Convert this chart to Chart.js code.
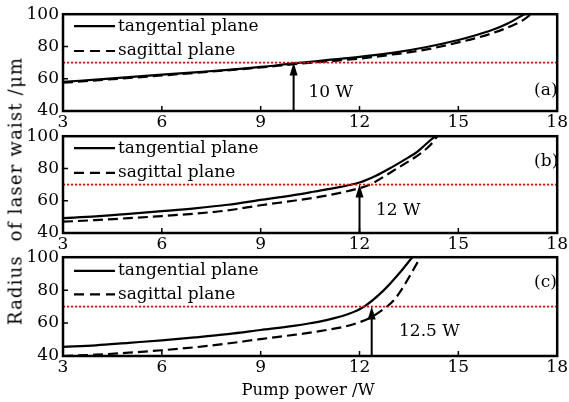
<!DOCTYPE html>
<html>
<head>
<meta charset="utf-8">
<script src="https://cdn.jsdelivr.net/npm/chart.js@4.4.1/dist/chart.umd.min.js"></script>
<style>
  body { margin: 0; background: #fff; }
  #wrap { position: relative; width: 569px; height: 402px; font-family: 'DejaVu Serif', serif; }
  canvas { position: absolute; left: 0; }
  .title { position: absolute; color: #000; white-space: pre; }
  #ytitle { left: 15px; top: 191px; font-size: 18px; letter-spacing: 1.2px; transform: translate(-50%, -50%) rotate(-90deg); }
  #xtitle { left: 308px; top: 389px; font-size: 16.5px; transform: translate(-50%, -50%); }
</style>
</head>
<body>
<div id="wrap">
  <canvas id="chartA" width="569" height="132" style="top:0px"></canvas>
  <canvas id="chartB" width="569" height="132" style="top:122px"></canvas>
  <canvas id="chartC" width="569" height="134" style="top:243px"></canvas>
  <div class="title" id="ytitle">Radius  of laser waist /μm</div>
  <div class="title" id="xtitle">Pump power /W</div>
</div>
<script>
const xTicks = [3, 6, 9, 12, 15, 18]
const yTicks = [40, 60, 80, 100]
const thresholdY = 70
const seriesNames = ['tangential plane', 'sagittal plane']

// panel (a)
const tanA_x = [3, 4, 5, 6, 7, 8, 9, 10, 11, 12, 13, 14, 15, 15.5, 16, 16.5, 17]
const tanA_y = [58, 59.5, 61, 62.5, 64, 65.5, 67.3, 69.5, 71.5, 73.5, 76, 79.5, 84, 86.8, 90, 94.2, 100]
const sagA_x = [3, 6, 9, 10, 12, 13, 14, 15, 15.5, 16, 16.5, 17, 17.2]
const sagA_y = [57.5, 62, 67, 69, 72.5, 75, 78, 82.5, 85, 88, 91.8, 96.8, 100]

// panel (b)
const tanB_x = [3, 4, 5, 6, 7, 8, 9, 10, 10.5, 11, 12, 12.5, 13, 13.5, 13.75, 14.15, 14.3]
const tanB_y = [49.2, 50.3, 51.8, 53.5, 55.3, 57.5, 60.5, 63.5, 65.2, 67, 71.3, 75.5, 81, 87, 90.3, 97.5, 100]
const sagB_x = [3, 4, 5, 6, 7, 8, 9, 10, 11, 12, 12.25, 12.5, 13, 13.5, 13.75, 14.15, 14.36]
const sagB_y = [47, 48, 49.2, 50.5, 52, 54, 57.2, 60, 63.2, 67.8, 69.5, 72, 78.3, 84.5, 87.8, 94.5, 100]

// panel (c)
const tanC_x = [3, 4, 5, 6, 7, 8, 9, 10, 10.5, 11, 11.64, 12.14, 12.74, 13.24, 13.6]
const tanC_y = [45.5, 46.5, 48, 49.5, 51.3, 53.3, 55.8, 58.3, 59.9, 61.8, 65.3, 70, 80, 91, 100]
const sagC_x = [3, 4, 5, 6, 7, 8, 9, 10, 10.5, 11, 11.5, 12, 12.35, 12.7, 13.05, 13.25, 13.45, 13.65, 13.85]
const sagC_y = [40, 40.8, 42, 43.5, 45.3, 47.6, 50.3, 52.8, 54.2, 55.8, 57.6, 60.5, 63.5, 68, 74, 79.5, 86, 93, 100]

// arrows and notes
const arrowX = [10, 12, 12.37]
const arrowText = ['10 W', '12 W', '12.5 W']
const panelTags = ['(a)', '(b)', '(c)']

const FAMILY = "'DejaVu Serif', serif"
const FONT = '17px ' + FAMILY

function pts(xs, ys) {
  return xs.map((x, i) => ({ x: x, y: ys[i] }))
}

const decor = {
  id: 'decor',
  afterDraw(chart, args, o) {
    const ctx = chart.ctx
    const a = chart.chartArea
    const x = chart.scales.x
    const y = chart.scales.y
    ctx.save()
    ctx.strokeStyle = '#000'
    ctx.fillStyle = '#000'

    // inward ticks
    ctx.lineWidth = 1.5
    ctx.beginPath()
    xTicks.slice(1, -1).forEach(v => {
      const px = x.getPixelForValue(v)
      ctx.moveTo(px, a.bottom)
      ctx.lineTo(px, a.bottom - 5)
    })
    yTicks.slice(1, -1).forEach(v => {
      const py = y.getPixelForValue(v)
      ctx.moveTo(a.left, py)
      ctx.lineTo(a.left + 5, py)
    })
    ctx.stroke()

    // frame
    ctx.lineWidth = 2.5
    ctx.strokeRect(a.left, a.top, a.width, a.height)

    // arrow
    const ax = x.getPixelForValue(o.arrowX)
    const y0 = y.getPixelForValue(40)
    const y1 = y.getPixelForValue(thresholdY)
    ctx.lineWidth = 2
    ctx.beginPath()
    ctx.moveTo(ax, y0)
    ctx.lineTo(ax, y1 + 8)
    ctx.stroke()
    ctx.beginPath()
    ctx.moveTo(ax, y1)
    ctx.lineTo(ax - 4, y1 + 13)
    ctx.lineTo(ax + 4, y1 + 13)
    ctx.closePath()
    ctx.fill()

    // notes
    ctx.font = FONT
    ctx.textBaseline = 'middle'
    ctx.textAlign = 'left'
    ctx.fillText(o.text, x.getPixelForValue(o.textX), y.getPixelForValue(o.textY))
    ctx.fillText(o.tag, x.getPixelForValue(o.tagX), y.getPixelForValue(o.tagY))

    // legend
    const lx0 = a.left + 11
    const lx1 = a.left + 52
    o.legendY.forEach((v, i) => {
      const py = y.getPixelForValue(v)
      ctx.setLineDash(i === 0 ? [] : [10, 6])
      ctx.lineWidth = 2.2
      ctx.beginPath()
      ctx.moveTo(lx0, py)
      ctx.lineTo(lx1, py)
      ctx.stroke()
      ctx.setLineDash([])
      ctx.fillText(seriesNames[i], lx1 + 3, py)
    })
    ctx.restore()
  },
}

function makePanel(id, tan, sag, idx, notes) {
  const ctx = document.getElementById(id).getContext('2d')
  return new Chart(ctx, {
    type: 'line',
    data: {
      datasets: [
        {
          data: pts([3, 18], [thresholdY, thresholdY]),
          borderColor: '#ff0000',
          borderWidth: 1.8,
          borderDash: [2, 2],
          pointRadius: 0,
        },
        {
          data: tan,
          borderColor: '#000',
          borderWidth: 2.2,
          pointRadius: 0,
          cubicInterpolationMode: 'monotone',
        },
        {
          data: sag,
          borderColor: '#000',
          borderWidth: 2.2,
          borderDash: [10, 5],
          pointRadius: 0,
          cubicInterpolationMode: 'monotone',
        },
      ],
    },
    options: {
      responsive: false,
      animation: false,
      layout: { padding: { top: 14, right: 8, left: 0, bottom: 0 } },
      plugins: {
        legend: { display: false },
        tooltip: { enabled: false },
        decor: Object.assign({ arrowX: arrowX[idx], text: arrowText[idx], tag: panelTags[idx] }, notes),
      },
      scales: {
        x: {
          type: 'linear',
          min: 3,
          max: 18,
          afterBuildTicks: s => { s.ticks = xTicks.map(v => ({ value: v })) },
          afterFit: s => { s.height = 21 },
          grid: { display: false, drawTicks: false },
          border: { display: false },
          ticks: { color: '#000', font: { family: FAMILY, size: 17 }, padding: 1, maxRotation: 0 },
        },
        y: {
          min: 40,
          max: 100,
          afterBuildTicks: s => { s.ticks = yTicks.map(v => ({ value: v })) },
          afterFit: s => { s.width = 63 },
          grid: { display: false, drawTicks: false },
          border: { display: false },
          ticks: { color: '#000', font: { family: FAMILY, size: 17 }, padding: 4 },
        },
      },
    },
    plugins: [decor],
  })
}

makePanel('chartA', pts(tanA_x, tanA_y), pts(sagA_x, sagA_y), 0,
  { textX: 10.45, textY: 51.7, tagX: 17.3, tagY: 52.4, legendY: [92.6, 77.2] })
makePanel('chartB', pts(tanB_x, tanB_y), pts(sagB_x, sagB_y), 1,
  { textX: 12.5, textY: 54.2, tagX: 17.3, tagY: 84.5, legendY: [92.6, 77.3] })
makePanel('chartC', pts(tanC_x, tanC_y), pts(sagC_x, sagC_y), 2,
  { textX: 13.2, textY: 54.7, tagX: 17.3, tagY: 84.8, legendY: [91.7, 77.4] })
</script>
</body>
</html>
